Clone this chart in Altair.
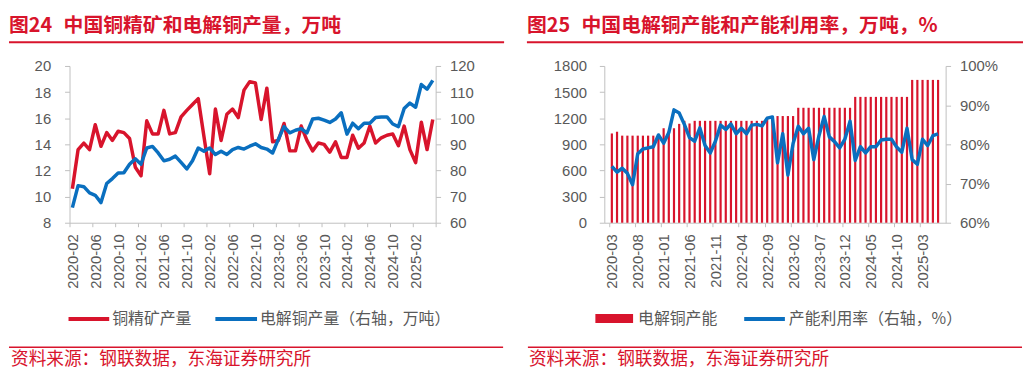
import json
import altair as alt
import pandas as pd

RED = "#D8142C"
BLUE = "#0A6FBF"
GRAY_TXT = "#595959"
AXIS_GRAY = "#BFBFBF"
CJK = "Noto Sans CJK SC"
LAT = "Liberation Sans"

# ---------------- data: left panel ----------------
months_left = [str(p) for p in pd.period_range("2020-02", "2025-05", freq="M")]
ore = [10.6, 13.6, 14.1, 13.6, 15.5, 13.85, 14.9, 14.3, 15.0, 14.9,
       14.45, 12.25, 11.6, 15.8, 14.8, 14.8, 16.6, 14.8, 14.9, 16.1,
       16.6, 17.05, 17.5, 14.6, 11.75, 16.7, 14.3, 16.3, 16.7, 16.05,
       18.15, 18.8, 18.7, 15.9, 18.3, 14.2, 14.3, 15.6, 13.5, 13.5,
       15.4, 14.3, 13.5, 14.1, 14.0, 13.4, 14.2, 13.0, 13.0, 14.7,
       13.7, 14.1, 15.4, 14.1, 14.5, 14.7, 14.8, 13.9, 15.4, 13.6,
       12.6, 15.7, 13.6, 15.9]
cathode = [65.8, 74.2, 73.8, 71.4, 70.5, 67.7, 75.0, 76.9, 79.0, 79.1,
           82.4, 84.5, 82.4, 88.6, 89.2, 86.7, 83.7, 84.3, 85.5, 83.1,
           80.6, 83.7, 88.6, 87.4, 88.6, 86.1, 87.4, 86.1, 88.0, 88.8,
           88.2, 89.3, 90.2, 88.8, 88.2, 86.7, 91.9, 96.8, 94.4, 95.4,
           96.0, 94.4, 99.7, 100.0, 99.3, 98.4, 99.7, 102.1, 93.9, 98.1,
           96.0, 98.1, 98.1, 100.3, 100.5, 100.5, 97.8, 96.8, 103.7, 105.8,
           104.2, 112.9, 111.1, 114.5]
ticks_left = months_left[::4]

# ---------------- data: right panel ----------------
months_right = [str(p) for p in pd.period_range("2020-03", "2025-06", freq="M")]
capacity = [1025, 1045, 1000, 1000, 1000, 1000, 1000, 1000, 1000, 1000,
            1085, 1055, 1085, 1135, 1170, 1140, 1170, 1170, 1170, 1170,
            1170, 1170, 1170, 1170, 1170, 1170, 1170, 1170, 1170, 1170,
            1215, 1225, 1225, 1225, 1225, 1225, 1320, 1320, 1320, 1320,
            1320, 1320, 1320, 1320, 1320, 1320, 1320, 1445, 1445, 1445,
            1445, 1445, 1445, 1445, 1445, 1445, 1445, 1445, 1640, 1640,
            1640, 1640, 1640, 1640]
utilization = [74.4, 72.9, 73.9, 72.6, 69.7, 77.6, 78.8, 79.1, 79.4, 82.4,
               80.3, 83.0, 88.8, 88.0, 85.1, 81.7, 80.8, 84.2, 79.7, 77.8,
               80.8, 84.9, 83.8, 85.2, 82.7, 84.1, 82.7, 84.9, 85.1, 84.7,
               86.7, 87.0, 75.3, 82.7, 72.2, 80.2, 84.6, 82.7, 84.1, 76.1,
               82.2, 87.1, 81.9, 80.7, 79.1, 81.3, 85.9, 75.9, 79.4, 77.8,
               79.4, 79.4, 81.1, 81.3, 81.3, 79.3, 78.0, 84.1, 76.1, 74.9,
               81.3, 79.7, 82.2, 82.7]
ticks_right = months_right[::5]

title_fig = ["图24", "图25"]
title_main = ["中国铜精矿和电解铜产量，万吨", "中国电解铜产能和产能利用率，万吨，%"]
legend_left = ["铜精矿产量", "电解铜产量（右轴，万吨）"]
legend_right = ["电解铜产能", "产能利用率（右轴，%）"]
source = "资料来源：钢联数据，东海证券研究所"

W1, W2, H = 369, 344, 158
LEG_Y = H + 97
SRC_RULE_Y = H + 125.5
SRC_Y = H + 138


def text_layer(label, x, y, size, color, weight="normal", font=CJK):
    return alt.Chart(pd.DataFrame({"t": [label]})).mark_text(
        align="left", baseline="middle", fontSize=size, color=color,
        fontWeight=weight, font=font
    ).encode(x=alt.value(x), y=alt.value(y), text="t:N")


def rule_layer(x1, x2, y, color, width):
    return alt.Chart(pd.DataFrame({"k": [0]})).mark_rule(
        color=color, strokeWidth=width
    ).encode(x=alt.value(x1), x2=alt.value(x2), y=alt.value(y))


def x_enc(n, step, labels, width):
    return alt.X(
        "idx:Q",
        scale=alt.Scale(domain=[-0.5, n - 0.5], nice=False, zero=False),
        axis=alt.Axis(
            values=[-0.5 + step * j for j in range(n // step + 1)],
            labelExpr=f"{json.dumps(labels)}[round((datum.value+0.5)/{step})] || ''",
            labelAngle=-90, labelOffset=width / n / 2, labelFlush=False,
            labelOverlap=False, tickSize=4, labelPadding=7, title=None,
        ),
    )


# ---------------- left panel ----------------
df1 = pd.DataFrame({"idx": range(len(months_left)), "month": months_left,
                    "ore": ore, "cathode": cathode})
xl = x_enc(len(months_left), 4, ticks_left, W1)
ore_line = alt.Chart(df1).mark_line(color=RED, strokeWidth=3.5, strokeJoin="round").encode(
    x=xl,
    y=alt.Y("ore:Q", scale=alt.Scale(domain=[8, 20], nice=False, zero=False),
            axis=alt.Axis(values=list(range(8, 21, 2)), orient="left", tickSize=5,
                          labelPadding=14, format="d", title=None)),
)
cat_line = alt.Chart(df1).mark_line(color=BLUE, strokeWidth=3.5, strokeJoin="round").encode(
    x=xl,
    y=alt.Y("cathode:Q", scale=alt.Scale(domain=[60, 120], nice=False, zero=False),
            axis=alt.Axis(values=list(range(60, 121, 10)), orient="right", tickSize=5,
                          labelPadding=9, format="d", title=None)),
)
left = alt.layer(
    ore_line, cat_line,
    text_layer(title_fig[0], -61, -40, 20, RED, "bold"),
    text_layer(title_main[0], -6, -40, 20, RED, "bold"),
    rule_layer(-61, 438, -24, RED, 2),
    rule_layer(-1, 40, LEG_Y, RED, 4),
    text_layer(legend_left[0], 43, LEG_Y, 16, GRAY_TXT),
    rule_layer(147, 189, LEG_Y, BLUE, 4),
    text_layer(legend_left[1], 192, LEG_Y, 16, GRAY_TXT),
    rule_layer(-61, 437, SRC_RULE_Y, RED, 1.5),
    text_layer(source, -59, SRC_Y, 17.8, RED),
).resolve_scale(y="independent").properties(width=W1, height=H)

# ---------------- right panel ----------------
df2 = pd.DataFrame({"idx": range(len(months_right)), "month": months_right,
                    "capacity": capacity, "util": utilization})
xr = x_enc(len(months_right), 5, ticks_right, W2)
bars = alt.Chart(df2).mark_bar(color=RED, width=2.2).encode(
    x=xr,
    y=alt.Y("capacity:Q", scale=alt.Scale(domain=[0, 1800], nice=False),
            axis=alt.Axis(values=list(range(0, 1801, 300)), orient="left", tickSize=5,
                          labelPadding=13, format="d", title=None)),
)
util_line = alt.Chart(df2).mark_line(color=BLUE, strokeWidth=3.5, strokeJoin="round").encode(
    x=xr,
    y=alt.Y("util:Q", scale=alt.Scale(domain=[60, 100], nice=False, zero=False),
            axis=alt.Axis(values=list(range(60, 101, 10)), orient="right", tickSize=5,
                          labelPadding=9, labelExpr="datum.value + '%'", title=None)),
)
right = alt.layer(
    bars, util_line,
    text_layer(title_fig[1], -78, -40, 20, RED, "bold"),
    text_layer(title_main[1], -23, -40, 20, RED, "bold"),
    rule_layer(-78, 422, -24, RED, 2),
    rule_layer(-9, 29, LEG_Y - 0.5, RED, 9),
    text_layer(legend_right[0], 34, LEG_Y, 16, GRAY_TXT),
    rule_layer(141, 182, LEG_Y, BLUE, 4),
    text_layer(legend_right[1], 186, LEG_Y, 16, GRAY_TXT),
    rule_layer(-77, 421, SRC_RULE_Y, RED, 1.5),
    text_layer(source, -76, SRC_Y, 17.8, RED),
).resolve_scale(y="independent").properties(width=W2, height=H)

chart = alt.hconcat(left, right, spacing=170, bounds="flush").properties(
    padding={"left": 0, "top": 7, "right": 0, "bottom": 0}
).configure_view(stroke=None).configure_axis(
    grid=False, domainColor=AXIS_GRAY, tickColor=AXIS_GRAY, labelColor=GRAY_TXT,
    labelFont=LAT, labelFontSize=15, domainWidth=1, tickWidth=1,
)

chart.save("out.html", embed_options={"renderer": "svg", "actions": False})
